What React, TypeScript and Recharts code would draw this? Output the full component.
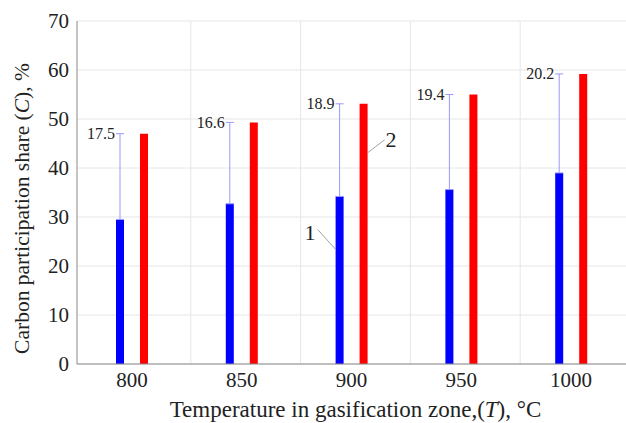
import React from 'react';
import {
  BarChart,
  Bar,
  XAxis,
  YAxis,
  CartesianGrid,
  ErrorBar,
  LabelList,
  Label,
} from 'recharts';

const temperatures = ['800', '850', '900', '950', '1000'];
const curve1 = [29.5, 32.7, 34.2, 35.6, 39.0];
const curve2 = [47.0, 49.3, 53.1, 55.0, 59.2];
const gapLabels = ['17.5', '16.6', '18.9', '19.4', '20.2'];
const yTicks = [0, 10, 20, 30, 40, 50, 60, 70];
const seriesTags = ['1', '2'];
const tagIndex = 2;

const data = temperatures.map((t, i) => ({
  t,
  c1: curve1[i],
  c2: curve2[i],
  err: [0, curve2[i] - curve1[i]],
  gap: gapLabels[i],
}));

const FONT = "'Liberation Serif', 'Times New Roman', Tinos, 'DejaVu Serif', 'Noto Serif', serif";
const BAR = 8;
const GAP = 16;
const txt = { fontFamily: FONT };

const gapLabel = (props: any) => {
  const { x, y, value } = props;
  // left of the error whisker, level with its cap
  const cx = x - GAP - BAR / 2;
  return (
    <text x={cx - 5} y={y} textAnchor="end" dominantBaseline="central" fontSize={16} fontFamily={FONT} style={txt} fill="#222">
      {value}
    </text>
  );
};

const tag1 = (props: any) => {
  const { x, y, index } = props;
  if (index !== tagIndex) return null;
  const ly = y + 53;
  return (
    <g>
      <line x1={x} y1={ly} x2={x - 18} y2={ly - 20} stroke="#888" strokeWidth={0.8} />
      <text x={x - 20} y={ly - 9} textAnchor="end" fontSize={22} style={txt} fill="#222">
        {seriesTags[0]}
      </text>
    </g>
  );
};

const tag2 = (props: any) => {
  const { x, y, width, index } = props;
  if (index !== tagIndex) return null;
  const lx = x + width;
  const ly = y + 49;
  return (
    <g>
      <line x1={lx} y1={ly} x2={lx + 17} y2={ly - 13} stroke="#888" strokeWidth={0.8} />
      <text x={lx + 18} y={ly - 6} textAnchor="start" fontSize={22} style={txt} fill="#222">
        {seriesTags[1]}
      </text>
    </g>
  );
};

const tickStyle = { fontSize: 21, fill: '#222', fontFamily: FONT, style: txt };

export default function App() {
  return (
    <div style={{ position: 'absolute', left: 0, top: 0, background: '#fff', fontFamily: FONT }}>
      <BarChart
        width={626}
        height={423}
        data={data}
        margin={{ top: 21, right: 0, left: 0, bottom: 0 }}
        barSize={BAR}
        barGap={GAP}
        style={txt}
      >
        <CartesianGrid
          stroke="#e6e6e6"
          strokeWidth={1}
          verticalCoordinatesGenerator={({ offset }: any) => {
            const band = offset.width / temperatures.length;
            return temperatures.slice(1).map((_, i) => offset.left + band * (i + 1) + 4);
          }}
        />
        <XAxis
          dataKey="t"
          height={59}
          tickLine={false}
          axisLine={{ stroke: '#8a8a8a' }}
          tick={tickStyle}
        >
          <Label
            content={({ viewBox }: any) => (
              <text
                x={viewBox.x + viewBox.width / 2 + 4}
                y={viewBox.y + 53}
                textAnchor="middle"
                fontSize={23}
                style={txt}
                fill="#222"
              >
                Temperature in gasification zone,(<tspan fontStyle="italic">T</tspan>), °C
              </text>
            )}
          />
        </XAxis>
        <YAxis
          width={77}
          domain={[0, 70]}
          ticks={yTicks}
          tickLine={false}
          axisLine={{ stroke: '#8a8a8a' }}
          tick={tickStyle}
        >
          <Label
            content={({ viewBox }: any) => {
              const cx = 22;
              const cy = viewBox.y + viewBox.height / 2 + 16;
              return (
                <text
                  x={cx}
                  y={cy}
                  transform={`rotate(-90 ${cx} ${cy})`}
                  textAnchor="middle"
                  dominantBaseline="central"
                  fontSize={21.5}
                  style={txt}
                  fill="#222"
                >
                  Carbon participation share (<tspan fontStyle="italic">C</tspan>), %
                </text>
              );
            }}
          />
        </YAxis>
        <Bar dataKey="c1" fill="#0000ff" isAnimationActive={false}>
          <ErrorBar dataKey="err" width={4} stroke="#9999ff" strokeWidth={1} isAnimationActive={false} />
          <LabelList dataKey="c1" content={tag1} />
        </Bar>
        <Bar dataKey="c2" fill="#ff0000" isAnimationActive={false}>
          <LabelList dataKey="gap" content={gapLabel} />
          <LabelList dataKey="c2" content={tag2} />
        </Bar>
      </BarChart>
    </div>
  );
}
